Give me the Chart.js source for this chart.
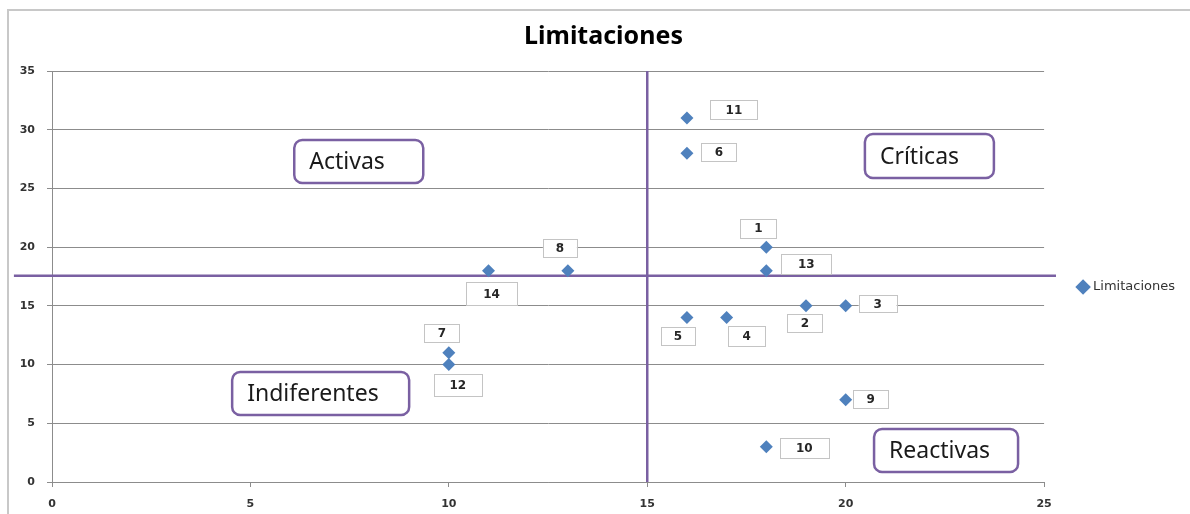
<!DOCTYPE html>
<html><head><meta charset="utf-8">
<script src="https://cdn.jsdelivr.net/npm/chart.js@4.4.1/dist/chart.umd.min.js"></script>
<style>
html,body{margin:0;padding:0;background:#fff;overflow:hidden}
#wrap{position:relative;width:1190px;height:514px}
#frame{position:absolute;left:7px;top:9px;width:1200px;height:520px;border-left:2px solid #c8c8c8;border-top:2px solid #c8c8c8;pointer-events:none}
canvas{position:absolute;left:0;top:0}
</style></head><body>
<div id="wrap"><canvas id="c" width="1190" height="514"></canvas><div id="frame"></div></div>
<script>
// ---- data ----
const chartTitle = 'Limitaciones';
const seriesName = 'Limitaciones';
const pointIds = ['1','2','3','4','5','6','7','8','9','10','11','12','13','14'];
const xValues  = [18, 19, 20, 17, 16, 16, 10, 13, 20, 18, 16, 10, 18, 11];
const yValues  = [20, 15, 15, 14, 14, 28, 11, 18,  7,  3, 31, 10, 18, 18];
const xTicks = [0, 5, 10, 15, 20, 25];
const yTicks = [0, 5, 10, 15, 20, 25, 30, 35];
const quadrantX = 15;
const quadrantY = 17.57;
const quadrantNames = ['Activas', 'Críticas', 'Indiferentes', 'Reactivas'];

// ---- layout (pixel offsets / sizes, not data) ----
const labelLayout = [ // [dx, dy, w, h] box centre relative to point
  [-8,-19,36,19],[-1,17,35,18],[32,-2,38,17],[20,18,37,20],[-9,18,34,18],
  [32,-1,35,18],[-7,-20,35,18],[-8,-23,34,18],[25,-1,35,18],[38,1,49,20],
  [47,-8,47,19],[9,20,48,22],[40,-7,50,20],[3,23,51,23]
];
const quadrantLayout = [ // centre in axis units, size in px
  {cx:7.73, cy:27.29, w:129, h:43},
  {cx:22.11, cy:27.76, w:129, h:44},
  {cx:6.77, cy:7.54, w:177, h:43},
  {cx:22.53, cy:2.68, w:144, h:43}
];
const hLineExtent = [-0.96, 25.30];

const purple = '#7a60a2';
const gridGray = '#8c8c8c';
const tickColor = '#333333';

const overlay = {
  id: 'overlay',
  beforeDraw(chart) {
    // let y tick labels use the space left of the axis box (avoid label clipping)
    chart.scales.y.left = 0;
  },
  afterDatasetsDraw(chart) {
    const ctx = chart.ctx;
    const xs = chart.scales.x, ys = chart.scales.y;
    ctx.save();
    // point label boxes
    ctx.font = 'bold 12px "DejaVu Sans"';
    ctx.textAlign = 'center';
    ctx.textBaseline = 'middle';
    pointIds.forEach((id, i) => {
      const px = xs.getPixelForValue(xValues[i]);
      const py = ys.getPixelForValue(yValues[i]);
      const [dx, dy, w, h] = labelLayout[i];
      const cx = px + dx, cy = py + dy;
      ctx.fillStyle = '#ffffff';
      ctx.fillRect(cx - w/2, cy - h/2, w, h);
      ctx.strokeStyle = '#c4c4c4';
      ctx.lineWidth = 1;
      ctx.strokeRect(Math.round(cx - w/2) + 0.5, Math.round(cy - h/2) + 0.5, w, h);
      ctx.fillStyle = '#262626';
      ctx.fillText(id, cx, cy + 1);
    });
    // quadrant boxes
    ctx.font = '23px "Noto Sans"';
    ctx.textAlign = 'left';
    quadrantNames.forEach((name, i) => {
      const q = quadrantLayout[i];
      const cx = xs.getPixelForValue(q.cx), cy = ys.getPixelForValue(q.cy);
      const x0 = cx - q.w/2, y0 = cy - q.h/2;
      ctx.beginPath();
      ctx.roundRect(x0, y0, q.w, q.h, 8);
      ctx.fillStyle = '#ffffff';
      ctx.fill();
      ctx.strokeStyle = purple;
      ctx.lineWidth = 2.5;
      ctx.stroke();
      ctx.fillStyle = '#1a1a1a';
      ctx.fillText(name, x0 + 15, cy + 1);
    });
    ctx.restore();
  }
};

new Chart(document.getElementById('c'), {
  type: 'scatter',
  data: {
    datasets: [
      {
        label: seriesName,
        data: xValues.map((x, i) => ({x, y: yValues[i]})),
        pointStyle: 'rectRot',
        pointRadius: 6.5,
        backgroundColor: '#4f81bd',
        borderColor: '#4f81bd',
        borderWidth: 0,
        order: 1
      },
      {
        type: 'line',
        label: 'h',
        data: [{x: hLineExtent[0], y: quadrantY}, {x: hLineExtent[1], y: quadrantY}],
        borderColor: purple, borderWidth: 2.5, pointRadius: 0, clip: false, order: 2
      },
      {
        type: 'line',
        label: 'v',
        data: [{x: quadrantX, y: yTicks[0]}, {x: quadrantX, y: yTicks[yTicks.length-1]}],
        borderColor: purple, borderWidth: 2.5, pointRadius: 0, clip: false, order: 2
      }
    ]
  },
  options: {
    responsive: false,
    animation: false,
    devicePixelRatio: 1,
    layout: { padding: { top: 0, right: 5, bottom: 0, left: 22 } },
    plugins: {
      tooltip: { enabled: false },
      title: {
        display: true, text: chartTitle, color: '#000',
        font: { family: 'Noto Sans', size: 25, weight: 'bold' },
        padding: { top: 22, bottom: 19 }
      },
      legend: {
        position: 'right',
        title: { display: true, text: ' ', font: { size: 10 }, padding: { top: 24, bottom: 24 } },
        labels: {
          usePointStyle: true,
          boxWidth: 7,
          boxHeight: 11,
          padding: 35.5,
          color: tickColor,
          font: { family: 'DejaVu Sans', size: 13 },
          filter: (item) => item.datasetIndex === 0
        }
      }
    },
    scales: {
      x: {
        type: 'linear', min: xTicks[0], max: xTicks[xTicks.length-1],
        afterBuildTicks: (s) => { s.ticks = xTicks.map(v => ({value: v})); },
        afterFit: (s) => { s.height = 32; },
        grid: { drawOnChartArea: false, drawTicks: true, tickLength: 5, color: gridGray },
        border: { display: true, color: gridGray, width: 1 },
        ticks: { color: tickColor, padding: 11, font: { family: 'DejaVu Sans', size: 11, weight: 'bold' } }
      },
      y: {
        type: 'linear', min: yTicks[0], max: yTicks[yTicks.length-1],
        afterBuildTicks: (s) => { s.ticks = yTicks.map(v => ({value: v})); },
        afterFit: (s) => { s.width = 30; },
        grid: { drawOnChartArea: true, drawTicks: true, tickLength: 5, color: gridGray },
        border: { display: true, color: gridGray, width: 1 },
        ticks: { color: tickColor, padding: 12, font: { family: 'DejaVu Sans', size: 11, weight: 'bold' } }
      }
    }
  },
  plugins: [overlay]
});
</script>
</body></html>
